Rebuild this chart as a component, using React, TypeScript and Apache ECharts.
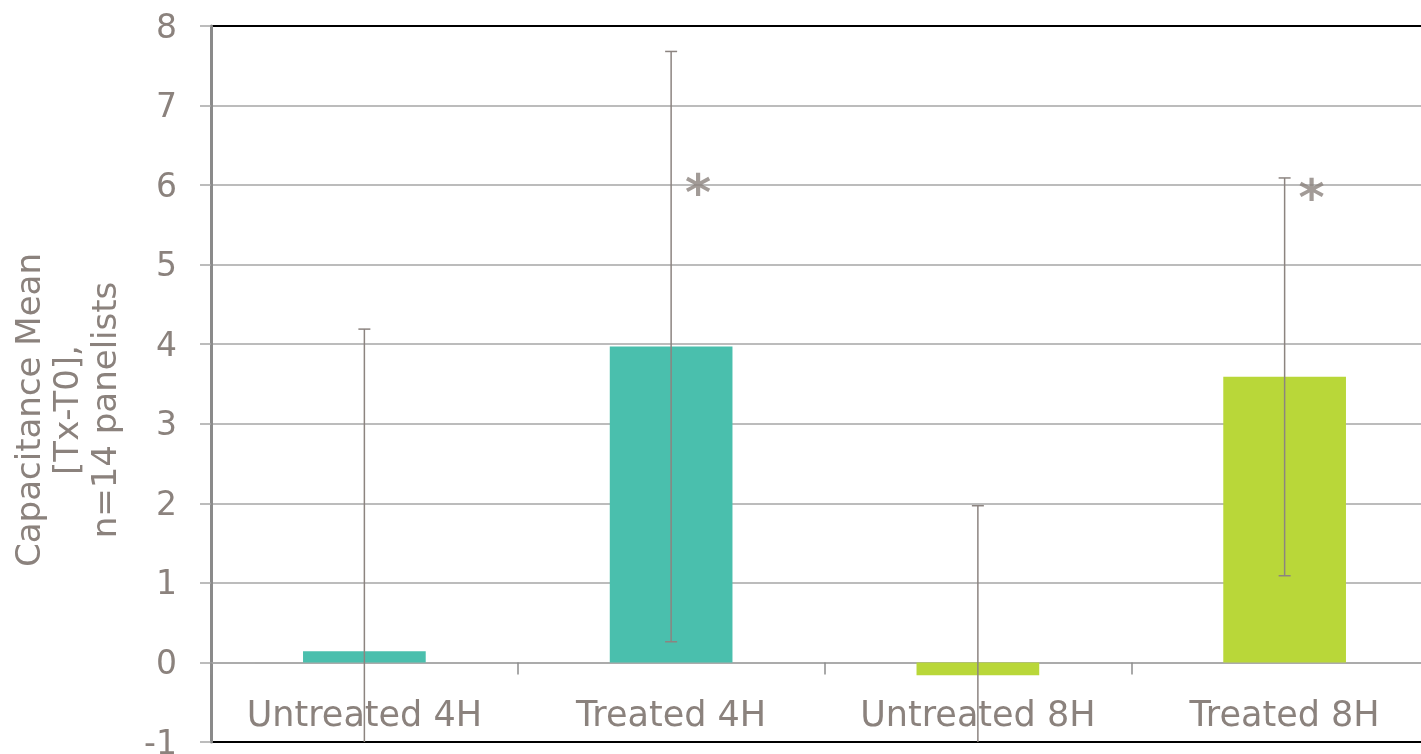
import React, { useEffect, useRef } from "react";
import * as echarts from "echarts";

// Capacitance change per group (mean and standard deviation)
const categories = ["Untreated 4H", "Treated 4H", "Untreated 8H", "Treated 8H"];
const means = [0.14, 3.97, -0.16, 3.59];
const deviations = [4.05, 3.71, 2.13, 2.5];
const barColors = ["#4ABFAD", "#4ABFAD", "#B9D739", "#B9D739"];

// Significance markers: category index and height on the value axis
const starCategories = [1, 3];
const starHeights = [5.98, 5.91];

const yMin = -1;
const yMax = 8;
const yStep = 1;

const TEXT = "#8B827D";
const LINE = "#A6A6A6";
const ERR = "#8C8480";
const FONT = "DejaVu Sans";

export default function App() {
  const ref = useRef<HTMLDivElement>(null);

  useEffect(() => {
    if (!ref.current) return;
    const chart = echarts.init(ref.current, undefined, { renderer: "svg" });

    const barData = means.map((v, i) => ({
      value: v,
      itemStyle: { color: barColors[i] },
    }));
    const errData = categories.map((_, i) => [i, means[i], deviations[i]]);
    const starData = starCategories.map((c, i) => [c, starHeights[i]]);

    chart.setOption({
      animation: false,
      grid: {
        left: 211,
        top: 26,
        bottom: 12,
        right: -17,
        outerBoundsMode: "none",
        containLabel: false,
        show: true,
        borderColor: "#000",
        borderWidth: 2,
        backgroundColor: "transparent",
      },
      xAxis: {
        type: "category",
        data: categories,
        axisLine: { onZero: true, lineStyle: { color: LINE, width: 1.5 } },
        axisTick: {
          show: true,
          alignWithLabel: false,
          length: 12,
          lineStyle: { color: "#8C8C8C", width: 1.5 },
        },
        axisLabel: {
          interval: 0,
          hideOverlap: false,
          color: TEXT,
          fontFamily: FONT,
          fontSize: 35,
          margin: -46,
        },
        splitLine: { show: false },
      },
      yAxis: {
        type: "value",
        min: yMin,
        max: yMax,
        interval: yStep,
        axisLine: { show: true, lineStyle: { color: "#8A8A8A", width: 3 } },
        axisTick: {
          show: true,
          length: 11,
          lineStyle: { color: LINE, width: 1.5 },
        },
        axisLabel: {
          color: TEXT,
          fontFamily: FONT,
          fontSize: 33,
          margin: 34,
        },
        splitLine: {
          show: true,
          showMinLine: false,
          showMaxLine: false,
          lineStyle: { color: LINE, width: 1.5 },
        },
      },
      graphic: [
        {
          type: "text",
          x: 66,
          y: 410,
          rotation: Math.PI / 2,
          style: {
            text: "Capacitance Mean\n[Tx-T0],\nn=14 panelists",
            fill: TEXT,
            font: `34px ${FONT}`,
            align: "center",
            verticalAlign: "middle",
            lineHeight: 38,
          },
        },
      ],
      series: [
        {
          type: "bar",
          data: barData,
          barWidth: "40%",
          z: 2,
        },
        {
          type: "custom",
          data: errData,
          encode: { x: 0, y: 1 },
          clip: true,
          z: 3,
          renderItem: (params: any, api: any) => {
            const x = api.value(0);
            const m = api.value(1);
            const d = api.value(2);
            const hi = api.coord([x, m + d]);
            const lo = api.coord([x, m - d]);
            const half = 6;
            const style = { stroke: ERR, lineWidth: 1.5 };
            return {
              type: "group",
              children: [
                {
                  type: "line",
                  shape: { x1: hi[0], y1: hi[1], x2: lo[0], y2: lo[1] },
                  style,
                },
                {
                  type: "line",
                  shape: { x1: hi[0] - half, y1: hi[1], x2: hi[0] + half, y2: hi[1] },
                  style,
                },
                {
                  type: "line",
                  shape: { x1: lo[0] - half, y1: lo[1], x2: lo[0] + half, y2: lo[1] },
                  style,
                },
              ],
            };
          },
        },
        {
          type: "scatter",
          data: starData,
          symbolSize: 1,
          itemStyle: { color: "transparent" },
          z: 4,
          label: {
            show: true,
            position: "inside",
            formatter: "*",
            color: TEXT,
            fontFamily: FONT,
            fontWeight: "bold",
            fontSize: 50,
            offset: [27, 6],
          },
        },
      ],
    });

    return () => chart.dispose();
  }, []);

  return (
    <div
      ref={ref}
      style={{ position: "fixed", left: 0, top: 0, width: 1421, height: 754 }}
    />
  );
}
